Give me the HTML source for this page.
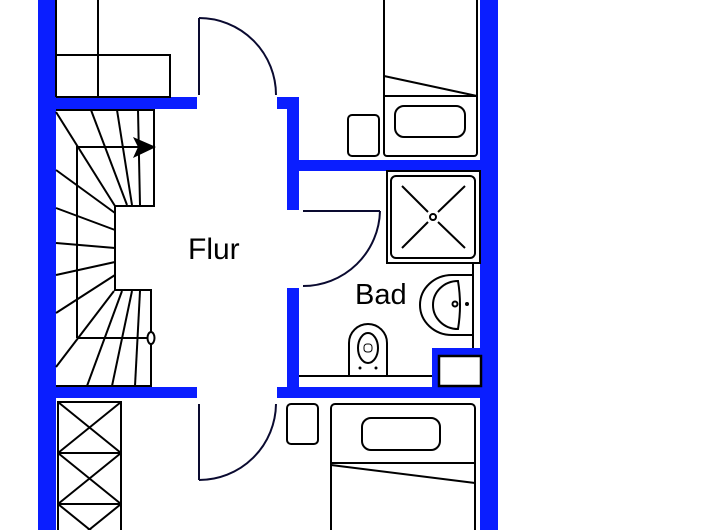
<!DOCTYPE html>
<html><head><meta charset="utf-8"><style>
html,body{margin:0;padding:0;background:#fff;width:720px;height:530px;overflow:hidden}
svg{display:block}
text{font-family:"Liberation Sans",sans-serif;fill:#000}
</style></head><body>
<svg width="720" height="530" viewBox="0 0 720 530" xmlns="http://www.w3.org/2000/svg">
<g fill="#0a1eff">
<rect x="38" y="0" width="18" height="530"/>
<rect x="480" y="0" width="18" height="530"/>
<rect x="56" y="97" width="141" height="12"/>
<rect x="277" y="97" width="22" height="12"/>
<rect x="287" y="97" width="12" height="113"/>
<rect x="299" y="160" width="181" height="11"/>
<rect x="287" y="288" width="12" height="99"/>
<rect x="56" y="387" width="141" height="11"/>
<rect x="277" y="387" width="203" height="11"/>
<rect x="432" y="348" width="48" height="39"/>
</g>
<g fill="none" stroke="#000" stroke-width="2">
<polyline points="56,0 56,97"/>
<line x1="98" y1="0" x2="98" y2="97"/>
<polyline points="56,55 170,55 170,97 56,97"/>
<g stroke="#0a0a30">
<line x1="199" y1="18" x2="199" y2="95"/>
<path d="M199,18 A77,77 0 0 1 276,95"/>
<line x1="199" y1="404" x2="199" y2="480"/>
<path d="M199,480 A77,77 0 0 0 276,404"/>
<line x1="303" y1="211" x2="380" y2="211"/>
<path d="M380,211 A77,77 0 0 1 303,286"/>
</g>
<polyline points="56,110 154,110 154,206 115,206 115,290 151,290 151,386 56,386"/>
<polyline points="77,338 77,147 154,147"/>
<line x1="77" y1="338" x2="151" y2="338"/>
<line x1="56" y1="112" x2="115" y2="206"/>
<line x1="91" y1="110" x2="127" y2="205"/>
<line x1="117" y1="110" x2="132" y2="205"/>
<line x1="138" y1="110" x2="140" y2="205"/>
<line x1="56" y1="170" x2="115" y2="213"/>
<line x1="56" y1="208" x2="115" y2="230"/>
<line x1="56" y1="243" x2="115" y2="248"/>
<line x1="56" y1="275" x2="115" y2="262"/>
<line x1="56" y1="313" x2="115" y2="275"/>
<line x1="56" y1="367" x2="114" y2="291"/>
<line x1="87" y1="386" x2="122" y2="291"/>
<line x1="112" y1="386" x2="132" y2="291"/>
<line x1="135" y1="386" x2="140" y2="291"/>
<ellipse cx="151" cy="338" rx="3.5" ry="6" fill="#fff"/>
<rect x="58" y="402" width="63" height="140"/>
<line x1="58" y1="453" x2="121" y2="453"/>
<line x1="58" y1="504" x2="121" y2="504"/>
<path d="M58,402 L121,453 M121,402 L58,453 M58,453 L121,504 M121,453 L58,504 M58,504 L121,555 M121,504 L58,555"/>
<rect x="384" y="-5" width="93" height="161" rx="3"/>
<line x1="384" y1="96" x2="477" y2="96"/>
<line x1="384" y1="76" x2="477" y2="96"/>
<rect x="395" y="106" width="70" height="31" rx="9"/>
<rect x="348" y="115" width="31" height="41" rx="4"/>
<rect x="387" y="171" width="93" height="92"/>
<rect x="391" y="176" width="84" height="82" rx="5"/>
<path d="M402,186 L428,212 M438,222 L465,248 M465,186 L438,212 M428,222 L402,248"/>
<circle cx="433" cy="217" r="3"/>
<line x1="473" y1="263" x2="473" y2="348"/>
<path d="M473,275 L452,275 A32,30 0 0 0 452,335 L473,335"/>
<path d="M458,281 A25,24 0 0 0 458,329 Q462,305 458,281 Z"/>
<circle cx="455" cy="304" r="2.5"/>
<circle cx="467" cy="304" r="1" fill="#000"/>
<line x1="299" y1="376" x2="432" y2="376"/>
<path d="M349,376 L349,343 A19,19 0 0 1 387,343 L387,376"/>
<ellipse cx="368" cy="348" rx="10" ry="15"/>
<rect x="364" y="344" width="8" height="8" rx="3" stroke-width="1"/>
<circle cx="360" cy="368" r="1" fill="#000" stroke-width="1"/>
<circle cx="376" cy="368" r="1" fill="#000" stroke-width="1"/>
<rect x="439" y="356" width="42" height="30" stroke-width="2.5" fill="#fff"/>
<rect x="331" y="404" width="144" height="140" rx="4"/>
<line x1="331" y1="463" x2="475" y2="463"/>
<line x1="331" y1="465" x2="475" y2="483"/>
<rect x="362" y="418" width="78" height="32" rx="9"/>
<rect x="287" y="404" width="31" height="40" rx="4"/>
</g>
<polygon points="133,137 156,147 133,158 138,147" fill="#000"/>
<text x="188" y="259" font-size="30">Flur</text>
<text x="355" y="304" font-size="29">Bad</text>
</svg>
</body></html>
